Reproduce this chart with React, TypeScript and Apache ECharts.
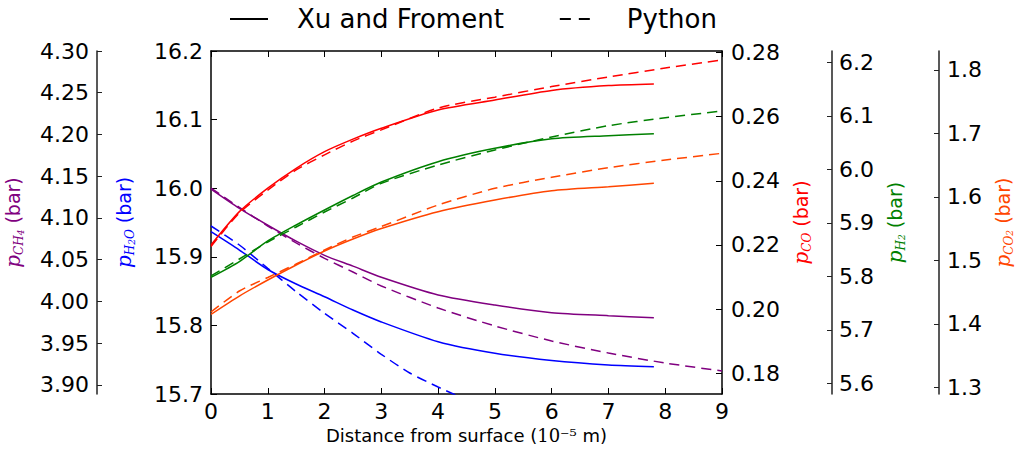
import React, { useEffect, useRef } from 'react';
import * as echarts from 'echarts';

// x positions (10^-5 m)
const xXu = [0, 0.5, 1, 1.5, 2, 2.5, 3, 4, 5, 6, 7, 7.8];
const xPy = [0, 0.5, 1, 1.5, 2, 2.5, 3, 4, 5, 6, 7, 8, 9];
const xPyH2O = [0, 0.5, 1, 1.5, 2, 2.5, 3, 3.5, 4, 4.5];

// Xu and Froment (solid) / Python (dashed), partial pressures in bar
const xuCH4 = [4.1347, 4.1116, 4.0913, 4.0722, 4.0553, 4.0423, 4.029, 4.0078, 3.9958, 3.9866, 3.983, 3.9806];
const pyCH4 = [4.1359, 4.1126, 4.0904, 4.0701, 4.0517, 4.0353, 4.0186, 3.9922, 3.9707, 3.9527, 3.9383, 3.9263, 3.9168];
const xuH2O = [15.9366, 15.9099, 15.8815, 15.8603, 15.8418, 15.8224, 15.805, 15.7762, 15.7593, 15.7488, 15.7423, 15.7398];
const pyH2O = [15.9449, 15.9172, 15.8832, 15.8491, 15.8176, 15.7885, 15.7579, 15.7306, 15.7102, 15.6913];
const xuCO = [0.22, 0.2304, 0.2377, 0.2439, 0.2491, 0.253, 0.2564, 0.2621, 0.2652, 0.2682, 0.2697, 0.2702];
const pyCO = [0.2195, 0.23, 0.2371, 0.2434, 0.2481, 0.2524, 0.2559, 0.2627, 0.2661, 0.2694, 0.2724, 0.2752, 0.2777];
const xuH2 = [5.7981, 5.8276, 5.866, 5.8959, 5.9239, 5.951, 5.9762, 6.0142, 6.0392, 6.057, 6.0628, 6.0665];
const pyH2 = [5.8006, 5.8323, 5.8641, 5.8921, 5.9202, 5.9463, 5.9738, 6.008, 6.0361, 6.0604, 6.0815, 6.0964, 6.109];
const xuCO2 = [1.415, 1.4438, 1.469, 1.4927, 1.5147, 1.5336, 1.5502, 1.5767, 1.5951, 1.6098, 1.6161, 1.6214];
const pyCO2 = [1.4186, 1.4517, 1.473, 1.4943, 1.5163, 1.5368, 1.5533, 1.5872, 1.6135, 1.631, 1.646, 1.6581, 1.6687];

// tick labels
const ticksCH4 = [3.9, 3.95, 4.0, 4.05, 4.1, 4.15, 4.2, 4.25, 4.3];
const ticksH2O = [15.7, 15.8, 15.9, 16.0, 16.1, 16.2];
const ticksCO = [0.18, 0.2, 0.22, 0.24, 0.26, 0.28];
const ticksH2 = [5.6, 5.7, 5.8, 5.9, 6.0, 6.1, 6.2];
const ticksCO2 = [1.3, 1.4, 1.5, 1.6, 1.7, 1.8];

const legendNames = ['Xu and Froment', 'Python'];

const SANS = 'DejaVu Sans';
const SERIF = 'DejaVu Serif';

const C_CH4 = '#800080';
const C_H2O = '#0000ff';
const C_CO = '#ff0000';
const C_H2 = '#008000';
const C_CO2 = '#ff4500';

function pairs(xs: number[], ys: number[]) {
  return ys.map((y, i) => [xs[i], y]);
}

function nameRich(color: string) {
  return {
    p: { fontFamily: SERIF, fontStyle: 'italic', fontSize: 20, color },
    s: { fontFamily: SERIF, fontStyle: 'italic', fontSize: 12, color, verticalAlign: 'bottom', lineHeight: 24 },
    ss: { fontFamily: SERIF, fontStyle: 'italic', fontSize: 9, color, verticalAlign: 'bottom', lineHeight: 22 },
    u: { fontFamily: SANS, fontSize: 19, color },
  };
}

function yAxisDef(opts: {
  position: 'left' | 'right';
  offset: number;
  min: number;
  max: number;
  ticks: number[];
  digits: number;
  name: string;
  nameGap: number;
  color: string;
  margin: number;
  lineColor: string;
  tickLen: number;
}) {
  return {
    type: 'value',
    position: opts.position,
    offset: opts.offset,
    min: opts.min,
    max: opts.max,
    name: opts.name,
    nameLocation: 'middle',
    nameRotate: 90,
    nameGap: opts.nameGap,
    nameTextStyle: { rich: nameRich(opts.color) },
    axisLine: { show: true, onZero: false, lineStyle: { color: opts.lineColor, width: 1.5 } },
    axisTick: {
      show: true,
      inside: true,
      length: opts.tickLen,
      customValues: opts.ticks,
      lineStyle: { color: opts.lineColor, width: 1 },
    },
    axisLabel: {
      customValues: opts.ticks,
      formatter: (v: number) => v.toFixed(opts.digits),
      fontFamily: SANS,
      fontSize: 22,
      color: '#000',
      margin: opts.margin,
    },
    splitLine: { show: false },
  };
}

function lineSeries(name: string, xs: number[], ys: number[], color: string, yAxisIndex: number, dashed: boolean) {
  return {
    name,
    type: 'line',
    xAxisIndex: 0,
    yAxisIndex,
    data: pairs(xs, ys),
    showSymbol: false,
    symbol: 'none',
    smooth: 0.25,
    color,
    lineStyle: { color, width: 1.5, type: dashed ? [10, 6] : 'solid' },
    clip: true,
    silent: true,
  };
}

export default function App() {
  const ref = useRef<HTMLDivElement>(null);

  useEffect(() => {
    if (!ref.current) return;
    const chart = echarts.init(ref.current, undefined, { renderer: 'svg' });
    const option = {
      animation: false,
      backgroundColor: '#fff',
      grid: { left: 211, right: 299, top: 51, bottom: 57, containLabel: false, outerBoundsMode: 'none' },
      legend: {
        data: [
          { name: legendNames[0] },
          { name: legendNames[1], lineStyle: { type: [11, 8] } },
        ],
        left: 229,
        top: 6,
        padding: 0,
        itemWidth: 38,
        itemHeight: 16,
        itemGap: 55,
        itemStyle: { opacity: 0, borderWidth: 0 },
        textStyle: { fontFamily: SANS, fontSize: 26, color: '#000', padding: [0, 0, 0, 24] },
      },
      xAxis: [
        {
          type: 'value',
          position: 'bottom',
          min: 0,
          max: 9,
          interval: 1,
          name: 'Distance from surface ({m|10⁻⁵} m)',
          nameLocation: 'middle',
          nameGap: 32,
          nameTextStyle: {
            fontFamily: SANS,
            fontSize: 18,
            color: '#000',
            rich: { m: { fontFamily: SERIF, fontSize: 18, color: '#000' } },
          },
          axisLine: { show: true, onZero: false, lineStyle: { color: '#000', width: 1.5 } },
          axisTick: { inside: true, length: 6, lineStyle: { color: '#000' } },
          axisLabel: { fontFamily: SANS, fontSize: 22, color: '#000', margin: 6 },
          splitLine: { show: false },
        },
        {
          type: 'value',
          position: 'top',
          min: 0,
          max: 9,
          interval: 1,
          axisLine: { show: true, onZero: false, lineStyle: { color: '#000', width: 1.5 } },
          axisTick: { inside: true, length: 6, lineStyle: { color: '#000' } },
          axisLabel: { show: false },
          splitLine: { show: false },
        },
      ],
      yAxis: [
        yAxisDef({
          position: 'left', offset: 0, min: 15.7, max: 16.2, ticks: ticksH2O, digits: 1,
          name: '{p|p}{s|H}{ss|2}{s|O}{u| (bar)}', nameGap: 75, color: C_H2O, margin: 8, lineColor: '#000', tickLen: 6,
        }),
        yAxisDef({
          position: 'left', offset: 114, min: 3.8892, max: 4.3, ticks: ticksCH4, digits: 2,
          name: '{p|p}{s|CH}{ss|4}{u| (bar)}', nameGap: 72, color: C_CH4, margin: 8, lineColor: '#222', tickLen: 5,
        }),
        yAxisDef({
          position: 'right', offset: 0, min: 0.1735, max: 0.2805, ticks: ticksCO, digits: 2,
          name: '{p|p}{s|CO}{u| (bar)}', nameGap: 66, color: C_CO, margin: 9, lineColor: '#000', tickLen: 6,
        }),
        yAxisDef({
          position: 'right', offset: 110, min: 5.58, max: 6.2211, ticks: ticksH2, digits: 1,
          name: '{p|p}{s|H}{ss|2}{u| (bar)}', nameGap: 48, color: C_H2, margin: 7, lineColor: '#222', tickLen: 5,
        }),
        yAxisDef({
          position: 'right', offset: 217, min: 1.2894, max: 1.8299, ticks: ticksCO2, digits: 1,
          name: '{p|p}{s|CO}{ss|2}{u| (bar)}', nameGap: 47, color: C_CO2, margin: 8, lineColor: '#222', tickLen: 5,
        }),
      ],
      series: [
        { name: legendNames[0], type: 'line', data: [], symbol: 'none', color: '#000', lineStyle: { color: '#000', width: 1.5, type: 'solid' } },
        { name: legendNames[1], type: 'line', data: [], symbol: 'none', color: '#000', lineStyle: { color: '#000', width: 1.5, type: [11, 8] } },
        lineSeries('py-H2O', xPyH2O, pyH2O, C_H2O, 0, true),
        lineSeries('xu-H2O', xXu, xuH2O, C_H2O, 0, false),
        lineSeries('py-CH4', xPy, pyCH4, C_CH4, 1, true),
        lineSeries('xu-CH4', xXu, xuCH4, C_CH4, 1, false),
        lineSeries('py-CO2', xPy, pyCO2, C_CO2, 4, true),
        lineSeries('xu-CO2', xXu, xuCO2, C_CO2, 4, false),
        lineSeries('py-H2', xPy, pyH2, C_H2, 3, true),
        lineSeries('xu-H2', xXu, xuH2, C_H2, 3, false),
        lineSeries('py-CO', xPy, pyCO, C_CO, 2, true),
        lineSeries('xu-CO', xXu, xuCO, C_CO, 2, false),
      ],
    };
    chart.setOption(option as any);
    return () => {
      chart.dispose();
    };
  }, []);

  return (
    <div
      ref={ref}
      style={{ position: 'fixed', left: 0, top: 0, width: 1021, height: 451, background: '#fff' }}
    />
  );
}
